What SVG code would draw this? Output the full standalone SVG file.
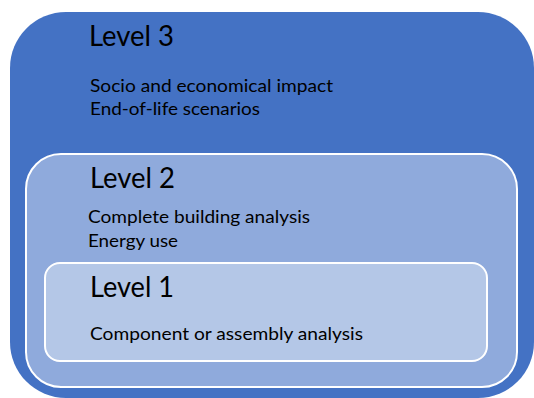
<svg xmlns="http://www.w3.org/2000/svg" width="534" height="398" viewBox="0 0 534 398">
  <style>
    .title { font-family: Lato, "Liberation Sans", sans-serif; font-size: 28.5px; fill: #000; }
    .item { font-family: Lato, "Liberation Sans", sans-serif; font-size: 17px; fill: #000; }
    .inner { stroke: #ffffff; stroke-width: 2; }
  </style>
  <rect width="534" height="398" fill="#ffffff"/>
  <g id="level3">
    <rect x="10" y="12" width="524" height="386" rx="56" ry="56" fill="#4472C4"/>
    <text class="title" x="89" y="46" textLength="85" lengthAdjust="spacingAndGlyphs">Level 3</text>
    <text class="item" x="90" y="92" textLength="243" lengthAdjust="spacingAndGlyphs">Socio and economical impact</text>
    <text class="item" x="90" y="115" textLength="170" lengthAdjust="spacingAndGlyphs">End-of-life scenarios</text>
  </g>
  <g id="level2">
    <rect class="inner" x="26" y="154" width="491" height="233" rx="35" ry="35" fill="#8FAADC"/>
    <text class="title" x="90" y="188" textLength="85" lengthAdjust="spacingAndGlyphs">Level 2</text>
    <text class="item" x="88" y="223" textLength="222" lengthAdjust="spacingAndGlyphs">Complete building analysis</text>
    <text class="item" x="88" y="247" textLength="90" lengthAdjust="spacingAndGlyphs">Energy use</text>
  </g>
  <g id="level1">
    <rect class="inner" x="45" y="263" width="442" height="98" rx="15" ry="15" fill="#B4C7E7"/>
    <text class="title" x="90" y="297" textLength="84" lengthAdjust="spacingAndGlyphs">Level 1</text>
    <text class="item" x="90" y="340" textLength="273" lengthAdjust="spacingAndGlyphs">Component or assembly analysis</text>
  </g>
</svg>
